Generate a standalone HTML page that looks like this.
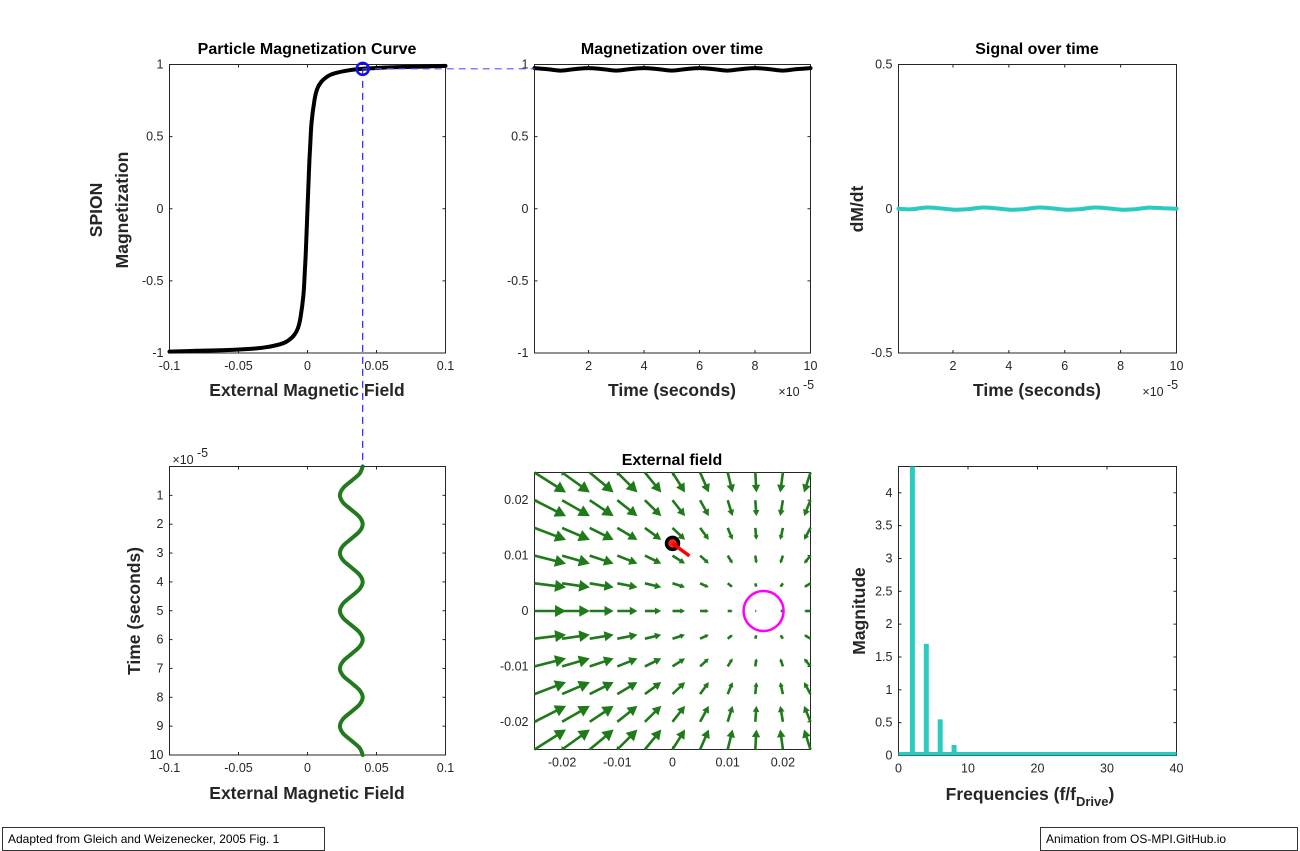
<!DOCTYPE html>
<html><head><meta charset="utf-8"><style>
html,body{margin:0;padding:0;background:#fff;width:1300px;height:850px;overflow:hidden}
svg{display:block;font-family:"Liberation Sans",Arial,sans-serif}
.tk{font-size:12.5px;fill:#262626}
.ttl{font-size:16px;font-weight:bold;fill:#000}
.lab{font-size:17.5px;font-weight:bold;fill:#262626}
.note{position:absolute;border:1px solid #333;background:#fff;font-family:"Liberation Sans",Arial,sans-serif;font-size:12px;padding:4px 5px;box-sizing:border-box;height:24px}
</style></head><body>
<svg id="fig" width="1300" height="850"></svg>
<div class="note" style="left:2px;top:827px;width:323px">Adapted from Gleich and Weizenecker, 2005 Fig. 1</div>
<div class="note" style="left:1040px;top:827px;width:258px">Animation from OS-MPI.GitHub.io</div>
<script>
// ---- data ----
const curveH=[-0.1,-0.08,-0.06,-0.04,-0.03,-0.02,-0.015,-0.01,-0.007,-0.005,-0.003,-0.002,-0.001,0,0.001,0.002,0.003,0.005,0.007,0.01,0.015,0.02,0.03,0.04,0.06,0.08,0.1];
const curveM=[-0.99,-0.985,-0.98,-0.97,-0.96,-0.94,-0.92,-0.88,-0.83,-0.75,-0.6,-0.45,-0.25,0,0.25,0.45,0.6,0.75,0.83,0.88,0.92,0.94,0.96,0.97,0.98,0.985,0.99];
const opH=0.04, opM=0.97;
const timeM=[0.05,0.5,1,1.5,2,2.5,3,3.5,4,4.5,5,5.5,6,6.5,7,7.5,8,8.5,9,9.5,10];
const magT=[0.975,0.968,0.958,0.968,0.975,0.968,0.958,0.968,0.975,0.968,0.958,0.968,0.975,0.968,0.958,0.968,0.975,0.968,0.958,0.968,0.975];
const sigT=[0.0,-0.002,0.004,0.002,-0.003,-0.002,0.004,0.002,-0.003,-0.002,0.004,0.002,-0.003,-0.002,0.004,0.002,-0.003,-0.002,0.004,0.002,0.0];
const timeH=[0,0.25,0.5,0.75,1,1.25,1.5,1.75,2,2.25,2.5,2.75,3,3.25,3.5,3.75,4,4.25,4.5,4.75,5,5.25,5.5,5.75,6,6.25,6.5,6.75,7,7.25,7.5,7.75,8,8.25,8.5,8.75,9,9.25,9.5,9.75,10];
const fieldH=[0.04,0.0377,0.0318,0.0258,0.0235,0.0258,0.0318,0.0377,0.04,0.0377,0.0318,0.0258,0.0235,0.0258,0.0318,0.0377,0.04,0.0377,0.0318,0.0258,0.0235,0.0258,0.0318,0.0377,0.04,0.0377,0.0318,0.0258,0.0235,0.0258,0.0318,0.0377,0.04,0.0377,0.0318,0.0258,0.0235,0.0258,0.0318,0.0377,0.04];
const gridPts=[-0.025,-0.02,-0.015,-0.01,-0.005,0,0.005,0.01,0.015,0.02,0.025];
const ffp=[0.0165,0];
const particle=[0,0.0122];
const freqs=[2,4,6,8,10];
const mags=[4.45,1.7,0.55,0.16,0.03];
// ---- helpers ----
const NS='http://www.w3.org/2000/svg', svg=document.getElementById('fig');
function mk(tag,at,parent){const e=document.createElementNS(NS,tag);for(const k in at)e.setAttribute(k,at[k]);(parent||svg).appendChild(e);return e;}
function txt(s,x,y,cls,anchor,parent,rot){const e=mk('text',{x:x,y:y,class:cls,'text-anchor':anchor||'middle'},parent);if(rot)e.setAttribute('transform','rotate(-90 '+x+' '+y+')');e.textContent=s;return e;}
function axes(name,L,T,R,B,x0,x1,y0,y1,xt,yt,xfmt,yfmt,rev){
  const g=mk('g',{});
  
  
  const sx=v=>L+(v-x0)/(x1-x0)*(R-L);
  const sy=rev?(v=>T+(v-y0)/(y1-y0)*(B-T)):(v=>B-(v-y0)/(y1-y0)*(B-T));
  xt.forEach(v=>{const x=sx(v);mk('line',{x1:x,x2:x,y1:B,y2:B-3,stroke:'#262626'},g);mk('line',{x1:x,x2:x,y1:T,y2:T+3,stroke:'#262626'},g);const t=txt(xfmt(v),x,B+17,'tk','middle',g);});
  yt.forEach(v=>{const y=sy(v);mk('line',{x1:L,x2:L+3,y1:y,y2:y,stroke:'#262626'},g);mk('line',{x1:R,x2:R-3,y1:y,y2:y,stroke:'#262626'},g);const t=txt(yfmt(v),L-6,y+4,'tk','end',g);});
  mk('rect',{x:L,y:T,width:R-L,height:B-T,fill:'none',stroke:'#262626','stroke-width':1},g);
  return {g,sx,sy};
}
function line(ax,xs,ys,color,w,name,smooth){
  const P=xs.map((x,i)=>[ax.sx(x),ax.sy(ys[i])]);
  let d='M'+P[0][0].toFixed(1)+' '+P[0][1].toFixed(1);
  for(let i=1;i<P.length;i++){
    if(!smooth){d+='L'+P[i][0].toFixed(1)+' '+P[i][1].toFixed(1);continue;}
    const p0=P[Math.max(0,i-2)],p1=P[i-1],p2=P[i],p3=P[Math.min(P.length-1,i+1)];
    const c1=[p1[0]+(p2[0]-p0[0])/6,p1[1]+(p2[1]-p0[1])/6],c2=[p2[0]-(p3[0]-p1[0])/6,p2[1]-(p3[1]-p1[1])/6];
    d+='C'+c1.map(v=>v.toFixed(1)).join(' ')+' '+c2.map(v=>v.toFixed(1)).join(' ')+' '+p2[0].toFixed(1)+' '+p2[1].toFixed(1);
  }
  const p=mk('path',{d:d,fill:'none',stroke:color,'stroke-width':w,'stroke-linejoin':'round','stroke-linecap':'round'},ax.g);return p;}
const fmt=v=>String(Math.round(v*1000)/1000);
// ---- panel 1 ----
const a1=axes('magnetization-curve-axes',169.5,64.5,445.5,353,-0.1,0.1,-1,1,[-0.1,-0.05,0,0.05,0.1],[-1,-0.5,0,0.5,1],fmt,fmt);
line(a1,curveH,curveM,'#000',4,'magnetization-curve',true);
txt('Particle Magnetization Curve',307,54,'ttl','middle',a1.g);
txt('External Magnetic Field',307,396,'lab','middle',a1.g);
txt('SPION',102,210,'lab','middle',a1.g,true);
txt('Magnetization',128,210,'lab','middle',a1.g,true);
// ---- panel 2 ----
const a2=axes('magnetization-time-axes',534.5,64.5,810.5,353,0.05,10,-1,1,[2,4,6,8,10],[-1,-0.5,0,0.5,1],fmt,fmt);
line(a2,timeM,magT,'#000',4,'magnetization-time-line',true);
txt('Magnetization over time',672,54,'ttl','middle',a2.g);
txt('Time (seconds)',672,396,'lab','middle',a2.g);
txt('×10',789,396,'tk','middle',a2.g);txt('-5',803,389,'tk','start',a2.g).setAttribute('font-size','9');
// ---- panel 3 ----
const a3=axes('signal-time-axes',898.5,64.5,1176.5,353,0.05,10,-0.5,0.5,[2,4,6,8,10],[-0.5,0,0.5],fmt,fmt);
line(a3,timeM,sigT,'#2ccbc0',4,'signal-line',true);
txt('Signal over time',1037,54,'ttl','middle',a3.g);
txt('Time (seconds)',1037,396,'lab','middle',a3.g);
txt('dM/dt',863,209,'lab','middle',a3.g,true);
txt('×10',1153,396,'tk','middle',a3.g);txt('-5',1167,389,'tk','start',a3.g).setAttribute('font-size','9');
// ---- panel 4 ----
const a4=axes('field-time-axes',169.5,466.5,445.5,755,-0.1,0.1,0,10,[-0.1,-0.05,0,0.05,0.1],[1,2,3,4,5,6,7,8,9,10],fmt,fmt,true);
line(a4,fieldH,timeH,'#237a1e',4,'field-time-line',true);
txt('External Magnetic Field',307,799,'lab','middle',a4.g);
txt('Time (seconds)',140,611,'lab','middle',a4.g,true);
txt('×10',183,464,'tk','middle',a4.g);txt('-5',197,457,'tk','start',a4.g).setAttribute('font-size','9');
// ---- operating point dashes ----
{const x=a1.sx(opH),y=a1.sy(opM);
const h=mk('line',{x1:x,y1:y,x2:534.5,y2:y,stroke:'#5555ff','stroke-width':1.2,'stroke-dasharray':'7 5'});

const v=mk('line',{x1:x,y1:y,x2:x,y2:466.5,stroke:'#2020ff','stroke-width':1.2,'stroke-dasharray':'7 5'});

const c=mk('circle',{cx:x,cy:y,r:6,fill:'none',stroke:'#1010ee','stroke-width':2.5});
}
// ---- panel 5 quiver ----
const a5=axes('external-field-axes',534.5,472.5,810.5,749.5,-0.025,0.025,-0.025,0.025,[-0.02,-0.01,0,0.01,0.02],[-0.02,-0.01,0,0.01,0.02],fmt,fmt);
txt('External field',672,465,'ttl','middle',a5.g);
const qs=760;
gridPts.forEach(gx=>gridPts.forEach(gy=>{
  const u=(ffp[0]-gx)*qs, v=(ffp[1]-gy)*qs*1.05;
  const x=a5.sx(gx), y=a5.sy(gy), x2=x+u, y2=y-v;
  const len=Math.hypot(u,v); if(len<0.5) return;
  const ang=Math.atan2(-v,u), hl=Math.min(11,len*0.38), hw=hl*0.55;
  const ar=mk('g',{},a5.g);
  
  
  mk('line',{x1:x,y1:y,x2:x2-hl*0.5*Math.cos(ang),y2:y2-hl*0.5*Math.sin(ang),stroke:'#1f7a1a','stroke-width':2.6},ar);
  const bx=x2-hl*Math.cos(ang),by=y2-hl*Math.sin(ang);
  mk('polygon',{points:`${x2},${y2} ${bx+hw*Math.sin(ang)},${by-hw*Math.cos(ang)} ${bx-hw*Math.sin(ang)},${by+hw*Math.cos(ang)}`,fill:'#1f7a1a'},ar);
}));
{const cx=a5.sx(ffp[0]),cy=a5.sy(ffp[1]);
const c=mk('circle',{cx:cx,cy:cy,r:20,fill:'none',stroke:'#ff00ff','stroke-width':2.5},a5.g);

const px=a5.sx(particle[0]),py=a5.sy(particle[1]);
const pb=mk('circle',{cx:px,cy:py,r:6,fill:'#ff2020',stroke:'#000','stroke-width':3.5},a5.g);

const du=ffp[0]-particle[0],dv=ffp[1]-particle[1],n=Math.hypot(du,dv);
const pl=mk('line',{x1:px,y1:py,x2:px+du/n*21,y2:py-dv/n*21,stroke:'#ff0000','stroke-width':3.5},a5.g);
}
// ---- panel 6 ----
const a6=axes('spectrum-axes',898.5,466.5,1176.5,755.5,0,40,0,4.4,[0,10,20,30,40],[0,0.5,1,1.5,2,2.5,3,3.5,4],fmt,fmt);
{const cp=mk('clipPath',{id:'c6'});mk('rect',{x:898.5,y:466.5,width:278,height:289},cp);
const sg=mk('g',{'clip-path':'url(#c6)'},a6.g);
const b=mk('line',{x1:a6.sx(0),x2:a6.sx(40),y1:a6.sy(0)-1.5,y2:a6.sy(0)-1.5,stroke:'#2ccbc0','stroke-width':4},sg);

freqs.forEach((f,i)=>{const r=mk('rect',{x:a6.sx(f)-2.5,y:a6.sy(mags[i]),width:5,height:a6.sy(0)-a6.sy(mags[i]),fill:'#2ccbc0'},sg);
});}
txt('Magnitude',865,611,'lab','middle',a6.g,true);
{const t=mk('text',{x:1030,y:800,class:'lab','text-anchor':'middle'},a6.g);
t.appendChild(document.createTextNode('Frequencies (f/f'));
const s=mk('tspan',{dy:6,'font-size':'13'},t);s.textContent='Drive';
const s2=mk('tspan',{dy:-6},t);s2.textContent=')';}
</script>
</body></html>
